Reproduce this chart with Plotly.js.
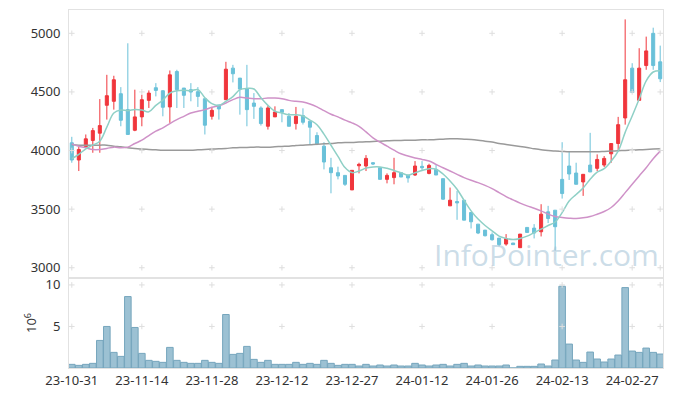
<!DOCTYPE html>
<html>
<head>
<meta charset="utf-8">
<script src="https://cdn.plot.ly/plotly-3.0.1.min.js"></script>
<style>html,body{margin:0;padding:0;background:#fff;}#chart{width:673px;height:396px;}</style>
</head>
<body>
<div id="chart"></div>
<script>
const dates = ["23-10-31","23-11-01","23-11-02","23-11-03","23-11-06","23-11-07","23-11-08","23-11-09","23-11-10","23-11-13",
"23-11-14","23-11-15","23-11-16","23-11-17","23-11-20","23-11-21","23-11-22","23-11-23","23-11-24","23-11-27",
"23-11-28","23-11-29","23-11-30","23-12-01","23-12-04","23-12-05","23-12-06","23-12-07","23-12-08","23-12-11",
"23-12-12","23-12-13","23-12-14","23-12-15","23-12-18","23-12-19","23-12-20","23-12-21","23-12-22","23-12-26",
"23-12-27","23-12-28","24-01-02","24-01-03","24-01-04","24-01-05","24-01-08","24-01-09","24-01-10","24-01-11",
"24-01-12","24-01-15","24-01-16","24-01-17","24-01-18","24-01-19","24-01-22","24-01-23","24-01-24","24-01-25",
"24-01-26","24-01-29","24-01-30","24-01-31","24-02-01","24-02-02","24-02-05","24-02-06","24-02-07","24-02-08",
"24-02-13","24-02-14","24-02-15","24-02-16","24-02-19","24-02-20","24-02-21","24-02-22","24-02-23","24-02-26",
"24-02-27","24-02-28","24-02-29","24-03-04","24-03-05"];

const open = [4066,3919,4032,4086,4148,4386,4420,4485,4349,4173,
4287,4428,4536,4510,4372,4674,4533,4519,4502,4442,
4292,4389,4434,4703,4618,4524,4405,4363,4207,4287,
4349,4292,4230,4298,4250,4128,4037,3853,3811,3788,
3664,3870,3868,3896,3853,3754,3769,3811,3791,3791,
3865,3805,3839,3760,3528,3565,3576,3471,3372,3321,
3282,3253,3202,3211,3171,3344,3338,3307,3477,3491,
3754,3868,3808,3732,3876,3848,3876,3972,4060,4278,
4703,4428,4725,5000,4757];
const high = [4117,4030,4137,4193,4439,4646,4638,4541,4915,4519,
4476,4513,4575,4515,4683,4689,4533,4575,4541,4442,
4372,4389,4757,4731,4618,4731,4490,4377,4383,4377,
4349,4320,4372,4360,4250,4156,4071,3938,3862,3790,
3831,3896,3961,3902,3853,3805,3938,3811,3791,3910,
3910,3887,3882,3760,3684,3655,3576,3471,3372,3321,
3301,3253,3287,3211,3287,3344,3372,3542,3528,3491,
4071,3995,3896,3797,4151,3967,3953,4060,4287,5119,
4745,4873,4972,5048,4895];
const low = [3896,3825,4023,3981,3981,4264,4349,4207,4137,4165,
4207,4363,4462,4292,4236,4363,4363,4420,4372,4137,
4264,4264,4434,4581,4306,4207,4270,4213,4179,4287,
4241,4207,4179,4222,4052,4046,3839,3635,3754,3698,
3664,3805,3825,3876,3754,3720,3712,3774,3726,3783,
3825,3797,3791,3579,3528,3409,3406,3335,3287,3267,
3231,3183,3188,3197,3171,3301,3250,3267,3381,3146,
3590,3749,3712,3613,3817,3825,3859,3896,3995,4221,
4490,4428,4689,4689,4584];
const close = [3919,4009,4100,4170,4213,4468,4604,4258,4137,4287,
4434,4490,4513,4369,4646,4519,4471,4499,4462,4216,
4343,4355,4694,4655,4524,4349,4377,4230,4363,4329,
4326,4207,4292,4241,4199,4057,3902,3811,3783,3712,
3831,3882,3933,3885,3754,3788,3811,3774,3766,3868,
3853,3873,3791,3585,3576,3553,3406,3392,3296,3273,
3239,3197,3248,3197,3287,3301,3296,3457,3420,3350,
3633,3800,3712,3797,3817,3924,3933,4060,4221,4604,
4496,4703,4850,4725,4612];

const ma5 = [3930,3967,4015,4046,4080,4200,4320,4345,4340,4350,
4345,4330,4385,4430,4490,4510,4515,4510,4520,4450,
4400,4385,4420,4460,4520,4530,4525,4450,4385,4335,
4320,4305,4305,4295,4260,4220,4140,4045,3950,3855,
3812,3825,3850,3860,3860,3848,3830,3810,3790,3810,
3830,3845,3840,3800,3740,3670,3575,3485,3415,3360,
3315,3270,3250,3240,3250,3270,3300,3330,3360,3390,
3470,3570,3625,3680,3755,3815,3845,3910,3995,4155,
4295,4440,4595,4670,4680];
const ma20 = [4057,4037,4023,4009,4009,4018,4029,4023,4029,4060,
4088,4128,4165,4193,4230,4264,4292,4320,4335,4349,
4369,4383,4406,4434,4454,4448,4442,4442,4448,4448,
4442,4428,4420,4414,4397,4372,4340,4310,4287,4259,
4236,4207,4159,4108,4071,4037,4003,3972,3953,3936,
3924,3910,3882,3853,3825,3797,3769,3746,3726,3703,
3675,3641,3607,3579,3551,3528,3508,3485,3457,3437,
3429,3423,3420,3426,3437,3457,3480,3514,3570,3641,
3712,3783,3853,3930,3995];
const ma60 = [4052,4046,4046,4046,4046,4046,4037,4032,4023,4018,
4012,4009,4006,4003,4003,4003,4003,4003,4006,4009,
4012,4015,4018,4023,4026,4026,4029,4029,4029,4032,
4035,4037,4043,4046,4049,4054,4057,4060,4066,4069,
4069,4072,4074,4077,4080,4083,4086,4086,4088,4088,
4091,4091,4094,4097,4100,4100,4097,4094,4088,4080,
4072,4060,4052,4043,4035,4026,4015,4006,4001,3995,
3992,3989,3989,3989,3989,3989,3992,3995,3998,4001,
4003,4006,4009,4012,4015];

const volume = [0.44,0.32,0.44,0.56,3.32,5.0,1.88,1.4,8.6,4.88,
1.76,0.92,0.8,0.68,2.48,0.92,0.68,0.56,0.56,0.92,
0.68,0.56,6.44,1.64,1.76,2.6,1.04,0.68,0.92,0.44,
0.44,0.44,0.68,0.44,0.56,0.44,0.92,0.56,0.32,0.44,
0.44,0.24,0.44,0.24,0.36,0.24,0.36,0.24,0.24,0.56,
0.36,0.24,0.36,0.44,0.24,0.44,0.56,0.24,0.36,0.24,
0.24,0.24,0.36,0,0.2,0.2,0.2,0.48,0.24,0.96,
9.84,2.88,0.96,0.68,1.92,1.08,0.72,1.08,1.56,9.68,
2.04,1.88,2.4,1.88,1.68];

const tickIdx = [0,10,20,30,40,50,60,70,80];
const priceTicks = [3000,3500,4000,4500,5000];
const volTicks = [5,10];

const tickDates = tickIdx.map(i => dates[i]);
const crossX = tickIdx.concat([84]).map(i => dates[i]);

function crosses(yvals, xa, ya) {
  const xs = [], ys = [];
  crossX.forEach(x => yvals.forEach(y => { xs.push(x); ys.push(y); }));
  return {type:'scatter', mode:'markers', x:xs, y:ys, xaxis:xa, yaxis:ya,
    marker:{symbol:'cross-thin', size:4, line:{color:'#dedede', width:1}},
    hoverinfo:'skip', showlegend:false};
}

const up = '#f0363c', down = '#6ac1d9';
const traces = [
  {type:'scatter', mode:'lines', x:dates, y:ma60, xaxis:'x', yaxis:'y',
    line:{color:'#9a9a9a', width:1.5, shape:'spline'}, hoverinfo:'skip'},
  {type:'scatter', mode:'lines', x:dates, y:ma20, xaxis:'x', yaxis:'y',
    line:{color:'#cf92c8', width:1.5, shape:'spline'}, hoverinfo:'skip'},
  {type:'scatter', mode:'lines', x:dates, y:ma5, xaxis:'x', yaxis:'y',
    line:{color:'#8fd0c6', width:1.5, shape:'spline'}, hoverinfo:'skip'},
  {type:'candlestick', x:dates, open:open, high:high, low:low, close:close,
    xaxis:'x', yaxis:'y',
    increasing:{line:{color:up, width:1}, fillcolor:up},
    decreasing:{line:{color:down, width:1}, fillcolor:down}},
  {type:'bar', x:dates, y:volume, xaxis:'x2', yaxis:'y2',
    marker:{color:'#9cc1d3', line:{color:'#76a6bd', width:1}}, hoverinfo:'skip'},
  crosses(priceTicks, 'x', 'y'),
  crosses(volTicks, 'x2', 'y2')
];

const frame = {showline:true, mirror:true, linecolor:'#e2e2e2', linewidth:1, zeroline:false, showgrid:false};
const font = {family:'"Noto Sans", "Noto Sans CJK KR", sans-serif', size:13, color:'#333'};

const layout = {
  width:673, height:396,
  margin:{l:69, r:10, t:10, b:28, pad:0},
  paper_bgcolor:'#fff', plot_bgcolor:'#fff',
  showlegend:false,
  font:font,
  bargap:0.06,
  boxgap:0.38,
  xaxis: Object.assign({}, frame, {type:'category', categoryorder:'array', categoryarray:dates,
    range:[-0.4,84.4], domain:[0,1], anchor:'y',
    rangeslider:{visible:false}, showticklabels:false, ticks:'', matches:'x2'}),
  yaxis: Object.assign({}, frame, {domain:[0.2506,1], range:[2910,5199], anchor:'x',
    tickvals:priceTicks, ticks:'', ticklabelstandoff:5, tickfont:font}),
  xaxis2: Object.assign({}, frame, {type:'category', categoryorder:'array', categoryarray:dates,
    range:[-0.4,84.4], domain:[0,1], anchor:'y2',
    rangeslider:{visible:false}, tickmode:'array', tickvals:tickDates, ticktext:tickDates, ticks:'',
    tickangle:0, tickfont:font}),
  yaxis2: Object.assign({}, frame, {domain:[0,0.2506], range:[0,10.8], anchor:'x2',
    tickvals:volTicks, ticks:'', ticklabelstandoff:5, tickfont:font}),
  annotations:[
    {text:'InfoPointer.com', xref:'paper', yref:'paper', x:0.804, y:0.316,
      xanchor:'center', yanchor:'middle', showarrow:false,
      font:{family:'"Open Sans", sans-serif', size:30, color:'rgba(160,192,212,0.55)'}},
    {text:'10<sup>6</sup>', xref:'paper', yref:'paper', x:-0.066, y:0.125, showarrow:false,
      xanchor:'center', yanchor:'middle', textangle:-90, font:font}
  ]
};

Plotly.newPlot('chart', traces, layout, {displayModeBar:false, staticPlot:true});
</script>
</body>
</html>
